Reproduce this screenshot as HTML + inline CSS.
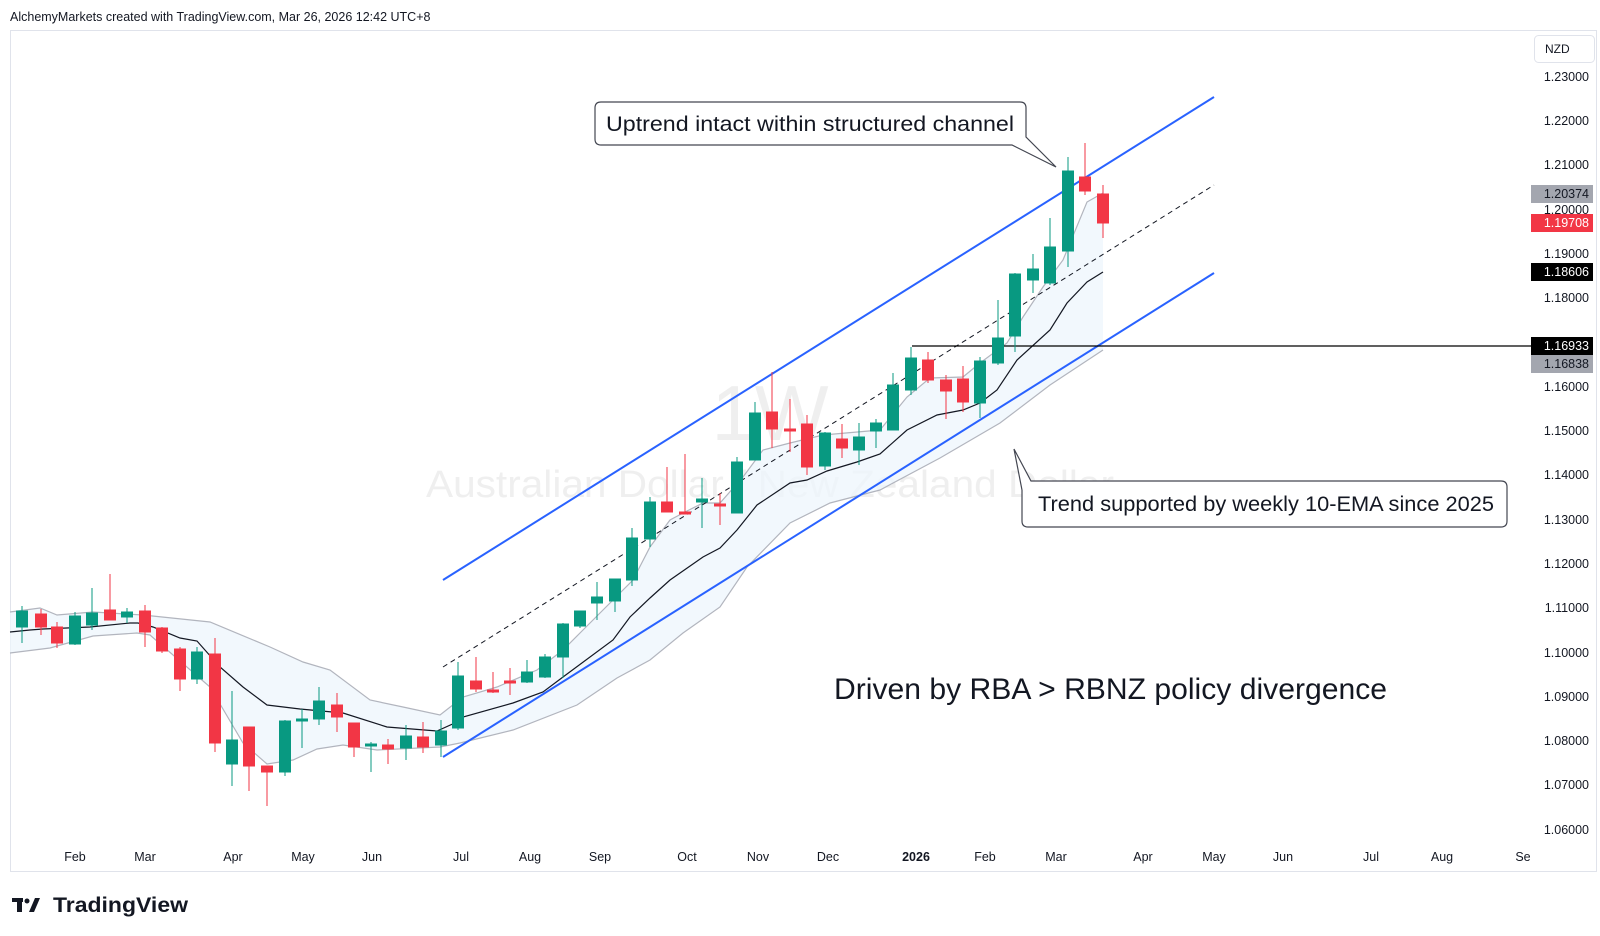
<!DOCTYPE html>
<html><head><meta charset="utf-8"><style>
html,body{margin:0;padding:0;background:#fff;width:1600px;height:936px;overflow:hidden}
svg{display:block;font-family:"Liberation Sans",sans-serif}
</style></head><body>
<svg width="1600" height="936" viewBox="0 0 1600 936" xmlns="http://www.w3.org/2000/svg">
<text x="10" y="21" font-size="12.5" fill="#131722">AlchemyMarkets created with TradingView.com, Mar 26, 2026 12:42 UTC+8</text>
<rect x="10.5" y="30.5" width="1586" height="841" fill="#fff" stroke="#e0e3eb"/>
<!-- watermark -->
<text x="770" y="440" font-size="78" fill="#efefef" text-anchor="middle">1W</text>
<text x="426" y="497" font-size="38" fill="#efefef" textLength="688" lengthAdjust="spacingAndGlyphs">Australian Dollar / New Zealand Dollar</text>
<!-- band fill -->
<polygon fill="#eef5fc" fill-opacity="0.75" points="10,612 40,608 57,615 93,612 143,615 210,622 270,647 303,662 330,670 370,700 403,707 440,715 463,697 497,687 537,670 563,650 580,633 613,600 633,580 650,547 670,520 685,512 703,503 720,503 743,477 763,450 790,443 823,435 880,430 907,397 930,378 963,377 980,363 1007,343 1023,317 1043,287 1063,260 1087,202 1103,193 1103,350 1050,385 1000,423 940,458 880,490 830,503 790,523 747,567 720,607 683,633 650,660 617,678 577,705 513,730 460,743 440,747 377,750 343,745 317,749 293,760 267,764 243,743 210,687 150,635 137,633 93,636 50,648 10,653"/>
<polyline fill="none" stroke="#b2b5be" stroke-width="1.2" points="10,612 40,608 57,615 93,612 143,615 210,622 270,647 303,662 330,670 370,700 403,707 440,715 463,697 497,687 537,670 563,650 580,633 613,600 633,580 650,547 670,520 685,512 703,503 720,503 743,477 763,450 790,443 823,435 880,430 907,397 930,378 963,377 980,363 1007,343 1023,317 1043,287 1063,260 1087,202 1103,193"/>
<polyline fill="none" stroke="#b2b5be" stroke-width="1.2" points="10,653 50,648 93,636 137,633 150,635 210,687 243,743 267,764 293,760 317,749 343,745 377,750 440,747 460,743 513,730 577,705 617,678 650,660 683,633 720,607 747,567 790,523 830,503 880,490 940,458 1000,423 1050,385 1103,350"/>
<polyline fill="none" stroke="#131722" stroke-width="1.2" points="10,632 30,630 43,629 90,627 130,623 138,623 153,627 180,638 197,641 220,667 243,687 267,705 300,709 343,713 387,727 437,731 457,722 463,717 513,703 543,692 563,677 613,640 630,617 650,598 670,580 703,557 720,548 737,530 757,505 790,483 807,480 827,471 857,462 880,454 907,430 937,415 963,410 980,403 997,390 1017,360 1050,330 1067,303 1087,282 1103,272"/>
<!-- channel -->
<line x1="443" y1="580" x2="1214" y2="97" stroke="#2962ff" stroke-width="2"/>
<line x1="443" y1="757" x2="1214" y2="273" stroke="#2962ff" stroke-width="2"/>
<line x1="443" y1="667" x2="1214" y2="185" stroke="#131722" stroke-width="1" stroke-dasharray="5,4"/>
<line x1="912" y1="346" x2="1531" y2="346" stroke="#000" stroke-width="1.2"/>
<!-- candles -->
<g stroke-width="1">
<g stroke="#089981" fill="#089981">
<line x1="22" y1="606" x2="22" y2="643"/><rect x="16.5" y="611" width="11" height="16"/>
<line x1="75" y1="612" x2="75" y2="645"/><rect x="69.5" y="616" width="11" height="28"/>
<line x1="92" y1="588" x2="92" y2="630"/><rect x="86.5" y="613" width="11" height="12"/>
<line x1="127" y1="608" x2="127" y2="623"/><rect x="121.5" y="612" width="11" height="5"/>
<line x1="197" y1="647" x2="197" y2="684"/><rect x="191.5" y="652" width="11" height="27"/>
<line x1="232" y1="691" x2="232" y2="786"/><rect x="226.5" y="740" width="11" height="24"/>
<line x1="285" y1="720" x2="285" y2="776"/><rect x="279.5" y="721" width="11" height="51"/>
<line x1="302" y1="709" x2="302" y2="748"/><rect x="296.5" y="719" width="11" height="2"/>
<line x1="319" y1="687" x2="319" y2="725"/><rect x="313.5" y="701" width="11" height="18"/>
<line x1="371" y1="742" x2="371" y2="772"/><rect x="365.5" y="744" width="11" height="2"/>
<line x1="406" y1="725" x2="406" y2="760"/><rect x="400.5" y="736" width="11" height="12"/>
<line x1="441" y1="720" x2="441" y2="757"/><rect x="435.5" y="731" width="11" height="14"/>
<line x1="458" y1="662" x2="458" y2="730"/><rect x="452.5" y="676" width="11" height="52"/>
<line x1="527" y1="660" x2="527" y2="683"/><rect x="521.5" y="672" width="11" height="10"/>
<line x1="545" y1="654" x2="545" y2="678"/><rect x="539.5" y="657" width="11" height="20"/>
<line x1="563" y1="623" x2="563" y2="678"/><rect x="557.5" y="624" width="11" height="33"/>
<line x1="580" y1="611" x2="580" y2="628"/><rect x="574.5" y="611" width="11" height="15"/>
<line x1="597" y1="582" x2="597" y2="620"/><rect x="591.5" y="597" width="11" height="6"/>
<line x1="615" y1="579" x2="615" y2="612"/><rect x="609.5" y="579" width="11" height="22"/>
<line x1="632" y1="528" x2="632" y2="586"/><rect x="626.5" y="538" width="11" height="42"/>
<line x1="650" y1="497" x2="650" y2="547"/><rect x="644.5" y="502" width="11" height="37"/>
<line x1="702" y1="478" x2="702" y2="528"/><rect x="696.5" y="499" width="11" height="3"/>
<line x1="737" y1="457" x2="737" y2="513"/><rect x="731.5" y="462" width="11" height="51"/>
<line x1="755" y1="402" x2="755" y2="460"/><rect x="749.5" y="413" width="11" height="47"/>
<line x1="825" y1="432" x2="825" y2="470"/><rect x="819.5" y="433" width="11" height="33"/>
<line x1="859" y1="423" x2="859" y2="465"/><rect x="853.5" y="437" width="11" height="13"/>
<line x1="876" y1="419" x2="876" y2="448"/><rect x="870.5" y="423" width="11" height="8"/>
<line x1="893" y1="373" x2="893" y2="430"/><rect x="887.5" y="385" width="11" height="45"/>
<line x1="911" y1="347" x2="911" y2="395"/><rect x="905.5" y="358" width="11" height="32"/>
<line x1="980" y1="357" x2="980" y2="418"/><rect x="974.5" y="361" width="11" height="42"/>
<line x1="998" y1="300" x2="998" y2="365"/><rect x="992.5" y="338" width="11" height="25"/>
<line x1="1015" y1="273" x2="1015" y2="352"/><rect x="1009.5" y="274" width="11" height="62"/>
<line x1="1033" y1="254" x2="1033" y2="293"/><rect x="1027.5" y="269" width="11" height="11"/>
<line x1="1050" y1="218" x2="1050" y2="285"/><rect x="1044.5" y="247" width="11" height="36"/>
<line x1="1068" y1="157" x2="1068" y2="267"/><rect x="1062.5" y="171" width="11" height="80"/>
</g>
<g stroke="#f23645" fill="#f23645">
<line x1="41" y1="609" x2="41" y2="635"/><rect x="35.5" y="614" width="11" height="13"/>
<line x1="57" y1="622" x2="57" y2="648"/><rect x="51.5" y="627" width="11" height="16"/>
<line x1="110" y1="574" x2="110" y2="620"/><rect x="104.5" y="610" width="11" height="10"/>
<line x1="145" y1="605" x2="145" y2="647"/><rect x="139.5" y="611" width="11" height="21"/>
<line x1="162" y1="627" x2="162" y2="653"/><rect x="156.5" y="628" width="11" height="23"/>
<line x1="180" y1="647" x2="180" y2="691"/><rect x="174.5" y="649" width="11" height="30"/>
<line x1="215" y1="638" x2="215" y2="752"/><rect x="209.5" y="654" width="11" height="89"/>
<line x1="249" y1="727" x2="249" y2="791"/><rect x="243.5" y="727" width="11" height="39"/>
<line x1="267" y1="766" x2="267" y2="806"/><rect x="261.5" y="766" width="11" height="6"/>
<line x1="337" y1="693" x2="337" y2="732"/><rect x="331.5" y="705" width="11" height="12"/>
<line x1="354" y1="723" x2="354" y2="757"/><rect x="348.5" y="723" width="11" height="24"/>
<line x1="388" y1="739" x2="388" y2="764"/><rect x="382.5" y="745" width="11" height="4"/>
<line x1="423" y1="722" x2="423" y2="753"/><rect x="417.5" y="737" width="11" height="10"/>
<line x1="476" y1="657" x2="476" y2="692"/><rect x="470.5" y="681" width="11" height="8"/>
<line x1="493" y1="672" x2="493" y2="693"/><rect x="487.5" y="690" width="11" height="2"/>
<line x1="510" y1="668" x2="510" y2="695"/><rect x="504.5" y="681" width="11" height="2"/>
<line x1="667" y1="467" x2="667" y2="512"/><rect x="661.5" y="502" width="11" height="10"/>
<line x1="685" y1="454" x2="685" y2="513"/><rect x="679.5" y="512" width="11" height="2"/>
<line x1="720" y1="493" x2="720" y2="525"/><rect x="714.5" y="504" width="11" height="2"/>
<line x1="772" y1="372" x2="772" y2="448"/><rect x="766.5" y="412" width="11" height="17"/>
<line x1="790" y1="399" x2="790" y2="452"/><rect x="784.5" y="429" width="11" height="2"/>
<line x1="807" y1="415" x2="807" y2="475"/><rect x="801.5" y="424" width="11" height="43"/>
<line x1="842" y1="424" x2="842" y2="458"/><rect x="836.5" y="439" width="11" height="9"/>
<line x1="928" y1="352" x2="928" y2="383"/><rect x="922.5" y="360" width="11" height="20"/>
<line x1="946" y1="375" x2="946" y2="419"/><rect x="940.5" y="380" width="11" height="11"/>
<line x1="963" y1="366" x2="963" y2="412"/><rect x="957.5" y="379" width="11" height="23"/>
<line x1="1085" y1="143" x2="1085" y2="195"/><rect x="1079.5" y="177" width="11" height="14"/>
<line x1="1103" y1="185" x2="1103" y2="238"/><rect x="1097.5" y="194" width="11" height="29"/>
</g>
</g>
<!-- callout 1 -->
<path d="M601,102 H1020 Q1026,102 1026,108 V137 L1056,167 L1012,145 H601 Q595,145 595,139 V108 Q595,102 601,102 Z" fill="#fff" stroke="#434651" stroke-width="1.2"/>
<text x="606" y="131" font-size="21" fill="#131722" textLength="408" lengthAdjust="spacingAndGlyphs">Uptrend intact within structured channel</text>
<!-- callout 2 -->
<path d="M1031,481 H1501 Q1507,481 1507,487 V521 Q1507,527 1501,527 H1028 Q1022,527 1022,521 V490 L1014,449 Z" fill="#fff" stroke="#434651" stroke-width="1.2"/>
<text x="1038" y="511" font-size="21" fill="#131722" textLength="456" lengthAdjust="spacingAndGlyphs">Trend supported by weekly 10-EMA since 2025</text>
<text x="834" y="699" font-size="30" fill="#131722" textLength="553" lengthAdjust="spacingAndGlyphs">Driven by RBA &gt; RBNZ policy divergence</text>
<!-- price axis -->
<rect x="1534.5" y="35.5" width="60" height="27" rx="4" fill="#fff" stroke="#e0e3eb"/>
<text x="1545" y="53" font-size="12" fill="#131722">NZD</text>
<g font-size="12.5" fill="#131722" text-anchor="end">
<text x="1589" y="81">1.23000</text><text x="1589" y="125">1.22000</text><text x="1589" y="169">1.21000</text><text x="1589" y="214">1.20000</text><text x="1589" y="258">1.19000</text><text x="1589" y="302">1.18000</text><text x="1589" y="391">1.16000</text><text x="1589" y="435">1.15000</text><text x="1589" y="479">1.14000</text><text x="1589" y="524">1.13000</text><text x="1589" y="568">1.12000</text><text x="1589" y="612">1.11000</text><text x="1589" y="657">1.10000</text><text x="1589" y="701">1.09000</text><text x="1589" y="745">1.08000</text><text x="1589" y="789">1.07000</text><text x="1589" y="834">1.06000</text>
</g>
<g font-size="12.5" text-anchor="end">
<rect x="1531" y="185" width="62" height="18" fill="#a3a6af"/><text x="1589" y="198" fill="#131722">1.20374</text>
<rect x="1531" y="214" width="62" height="18" fill="#f23645"/><text x="1589" y="227" fill="#fff">1.19708</text>
<rect x="1531" y="263" width="62" height="18" fill="#000"/><text x="1589" y="276" fill="#fff">1.18606</text>
<rect x="1531" y="337" width="62" height="18" fill="#000"/><text x="1589" y="350" fill="#fff">1.16933</text>
<rect x="1531" y="355" width="62" height="18" fill="#a3a6af"/><text x="1589" y="368" fill="#131722">1.16838</text>
</g>
<!-- time axis -->
<g font-size="12.5" fill="#131722" text-anchor="middle">
<text x="75" y="861">Feb</text><text x="145" y="861">Mar</text><text x="233" y="861">Apr</text><text x="303" y="861">May</text><text x="372" y="861">Jun</text><text x="461" y="861">Jul</text><text x="530" y="861">Aug</text><text x="600" y="861">Sep</text><text x="687" y="861">Oct</text><text x="758" y="861">Nov</text><text x="828" y="861">Dec</text><text x="916" y="861" font-weight="bold">2026</text><text x="985" y="861">Feb</text><text x="1056" y="861">Mar</text><text x="1143" y="861">Apr</text><text x="1214" y="861">May</text><text x="1283" y="861">Jun</text><text x="1371" y="861">Jul</text><text x="1442" y="861">Aug</text><text x="1523" y="861">Se</text>
</g>
<!-- logo -->
<g fill="#131722">
<rect x="12" y="898" width="11" height="4"/><rect x="17" y="898" width="5" height="14"/>
<circle cx="27" cy="901" r="2.5"/><path d="M29,912 L35,898 H40 L34,912 Z"/>
</g>
<text x="53" y="912" font-size="21" font-weight="bold" fill="#131722" textLength="135" lengthAdjust="spacingAndGlyphs">TradingView</text>
</svg>
</body></html>
